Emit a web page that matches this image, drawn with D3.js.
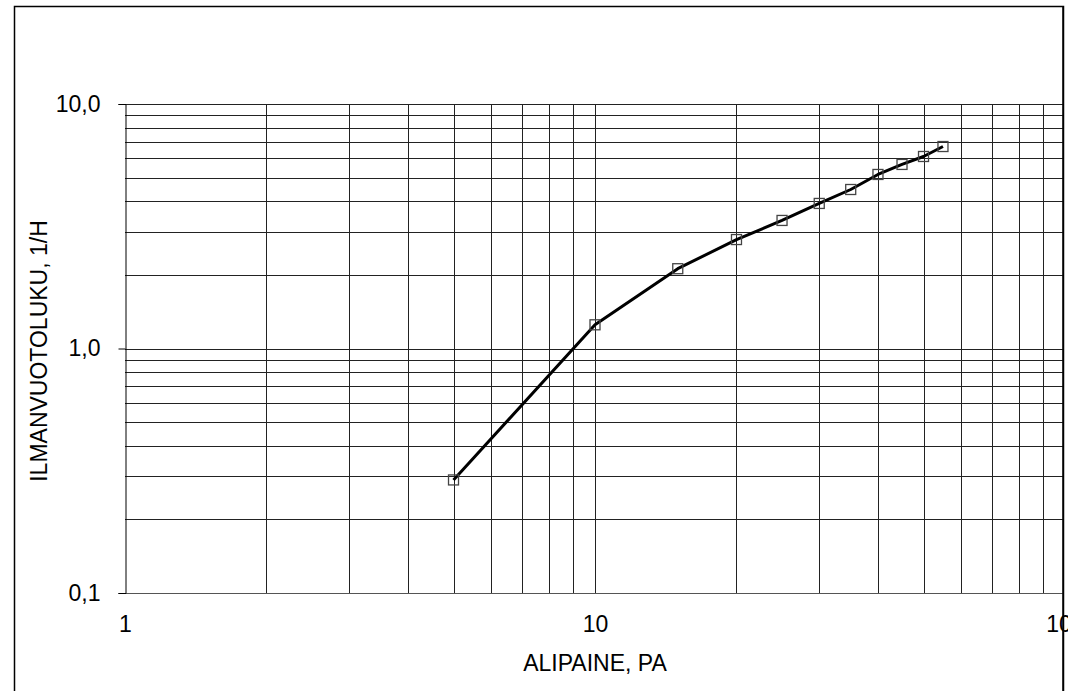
<!DOCTYPE html>
<html>
<head>
<meta charset="utf-8">
<script src="https://cdn.jsdelivr.net/npm/d3@7"></script>
<style>
  body { margin: 0; background: #fff; }
  text { font-family: "Liberation Sans", Arial, sans-serif; }
</style>
</head>
<body>
<div id="chart"></div>
<script>
// data
var pressure = [5, 10, 15, 20, 25, 30, 35, 40, 45, 50, 55];
var leakRate = [0.29, 1.25, 2.12, 2.79, 3.34, 3.92, 4.47, 5.15, 5.66, 6.10, 6.70];
var xTicks = [1, 10, 100];
var yTicks = [0.1, 1, 10];

var width = 1068, height = 691;
var margin = { top: 104, left: 125 };
var plotBottom = 593;
var fontSize = 23;

var svg = d3.select("#chart").append("svg")
  .attr("width", width)
  .attr("height", height);

// outer frame
svg.append("rect")
  .attr("x", 14.5).attr("y", 6.5)
  .attr("width", 1049).attr("height", 700)
  .attr("fill", "none").attr("stroke", "#000").attr("stroke-width", 1.5);

svg.append("clipPath").attr("id", "clip")
  .append("rect").attr("x", 0).attr("y", 0).attr("width", 1063).attr("height", height);

var xScale = d3.scaleLog().domain([1, 100]).range([margin.left, 1065]);
var yScale = d3.scaleLog().domain([0.1, 10]).range([plotBottom, margin.top]);

var grid = svg.append("g").attr("clip-path", "url(#clip)");

// grid lines
var xGrid = [];
[1, 10].forEach(function (d) { for (var i = 2; i <= 10; i++) xGrid.push(d * i); });
var yGrid = [];
[0.1, 1].forEach(function (d) { for (var i = 2; i <= 10; i++) yGrid.push(+(d * i).toFixed(2)); });

grid.selectAll(".vgrid").data(xGrid).join("line")
  .attr("class", "vgrid")
  .attr("x1", function (d) { return Math.round(xScale(d)) + 0.5; })
  .attr("x2", function (d) { return Math.round(xScale(d)) + 0.5; })
  .attr("y1", margin.top).attr("y2", plotBottom)
  .attr("stroke", "#222").attr("stroke-width", 1);

grid.selectAll(".hgrid").data(yGrid).join("line")
  .attr("class", "hgrid")
  .attr("x1", margin.left).attr("x2", 1065)
  .attr("y1", function (d) { return Math.round(yScale(d)) + 0.5; })
  .attr("y2", function (d) { return Math.round(yScale(d)) + 0.5; })
  .attr("stroke", "#222").attr("stroke-width", 1);

// bottom line
grid.append("line")
  .attr("x1", margin.left).attr("x2", 1065)
  .attr("y1", plotBottom + 0.5).attr("y2", plotBottom + 0.5)
  .attr("stroke", "#555").attr("stroke-width", 1);

// y axis
var fmt = function (d) { return d3.format(".1f")(d).replace(".", ","); };
var yAxis = svg.append("g")
  .attr("transform", "translate(" + (margin.left + 0.5) + ",0)")
  .call(d3.axisLeft(yScale).tickValues(yTicks).tickFormat(fmt).tickSize(7).tickPadding(18));
yAxis.select(".domain").attr("stroke", "#000");
yAxis.selectAll(".tick line").attr("stroke", "#000");
yAxis.selectAll("text").attr("font-size", fontSize).attr("fill", "#000")
  .attr("font-family", "Liberation Sans, Arial, sans-serif");

// x axis labels
var xAxis = svg.append("g")
  .attr("transform", "translate(0," + plotBottom + ")")
  .call(d3.axisBottom(xScale).tickValues(xTicks).tickFormat(d3.format("d")).tickSize(0).tickPadding(23));
xAxis.select(".domain").remove();
xAxis.selectAll("text").attr("font-size", fontSize).attr("fill", "#000")
  .attr("font-family", "Liberation Sans, Arial, sans-serif");

// axis titles
svg.append("text")
  .attr("x", 595).attr("y", 671)
  .attr("text-anchor", "middle").attr("font-size", fontSize)
  .text("ALIPAINE, PA");

svg.append("text")
  .attr("transform", "translate(47,351) rotate(-90)")
  .attr("text-anchor", "middle").attr("font-size", fontSize)
  .text("ILMANVUOTOLUKU, 1/H");

// series
var points = pressure.map(function (p, i) { return { x: p, y: leakRate[i] }; });

var line = d3.line()
  .x(function (d) { return xScale(d.x); })
  .y(function (d) { return yScale(d.y); });

svg.append("path")
  .datum(points)
  .attr("d", line)
  .attr("fill", "none").attr("stroke", "#000").attr("stroke-width", 3)
  .attr("stroke-linejoin", "round");

svg.selectAll(".marker").data(points).join("rect")
  .attr("class", "marker")
  .attr("x", function (d) { return xScale(d.x) - 5; })
  .attr("y", function (d) { return yScale(d.y) - 5; })
  .attr("width", 10).attr("height", 10)
  .attr("fill", "none").attr("stroke", "#444").attr("stroke-width", 1.3);

// right edge of frame over the clipped plot
svg.append("line")
  .attr("x1", 1063).attr("x2", 1063).attr("y1", 6).attr("y2", height)
  .attr("stroke", "#000").attr("stroke-width", 1.5);
</script>
</body>
</html>
